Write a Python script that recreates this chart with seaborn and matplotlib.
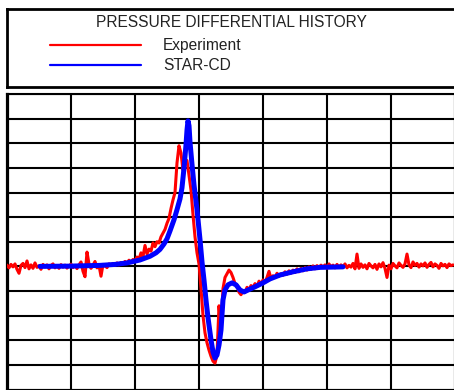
import numpy as np
import pandas as pd
import matplotlib
matplotlib.use("Agg")
import matplotlib.pyplot as plt
from matplotlib.lines import Line2D
import seaborn as sns

# Measured pressure differential, uniformly sampled
EXP_DT = 0.03125
exp_dp = [
    0.05, -0.06, 0.08, -0.02, 0.10, -0.12, -0.28, 0.04, 0.12, -0.05,
    0.22, -0.10, 0.06, -0.08, 0.14, -0.04, 0.02, -0.12, 0.08, -0.02,
    0.06, -0.10, 0.04, 0.10, -0.06, 0.03, -0.08, 0.07, -0.03, 0.05,
    -0.07, 0.02, 0.09, -0.05, 0.04, -0.09, 0.06, 0.18, -0.20, -0.42,
    0.58, 0.10, -0.08, 0.05, 0.20, -0.06, 0.04, -0.40, 0.08, 0.02,
    -0.05, 0.10, 0.04, 0.12, 0.05, 0.14, 0.06, 0.16, 0.10, 0.20,
    0.13, 0.25, 0.17, 0.28, 0.22, 0.38, 0.30, 0.55, 0.40, 0.85,
    0.50, 0.70, 0.62, 0.95, 0.80, 1.00, 0.95, 1.20, 1.35, 1.50,
    1.75, 1.95, 2.35, 2.70, 3.00, 4.20, 4.90, 4.60, 3.90, 4.25,
    4.30, 3.70, 3.10, 2.10, 1.20, 0.55, 0.10, -0.90, -2.00, -2.70,
    -3.10, -3.40, -3.65, -3.85, -3.93, -3.60, -1.60, -2.50, -0.90, -0.45,
    -0.30, -0.15, -0.25, -0.45, -0.70, -0.75, -1.05, -1.15, -1.00, -1.05,
    -0.85, -0.95, -0.78, -0.85, -0.70, -0.82, -0.60, -0.72, -0.55, -0.65,
    -0.45, -0.20, -0.50, -0.38, -0.45, -0.28, -0.40, -0.30, -0.36, -0.22,
    -0.32, -0.18, -0.28, -0.15, -0.25, -0.10, -0.22, -0.08, -0.18, -0.05,
    -0.15, -0.02, -0.12, 0.02, -0.10, 0.03, -0.06, 0.05, -0.04, 0.06,
    -0.08, 0.10, -0.02, 0.05, -0.06, 0.08, -0.04, 0.06, -0.02, 0.10,
    -0.06, 0.04, -0.03, 0.12, -0.10, 0.50, -0.08, 0.10, -0.04, 0.06,
    -0.10, 0.12, 0.02, -0.06, 0.08, -0.12, 0.10, -0.02, 0.15, -0.08,
    -0.45, 0.05, -0.10, 0.12, 0.02, -0.06, 0.14, 0.04, -0.04, 0.10,
    0.50, 0.06, -0.05, 0.18, 0.04, 0.12, -0.03, 0.10, 0.02, 0.14,
    -0.04, 0.08, 0.16, -0.02, 0.10, 0.04, -0.08, 0.12, 0.02, 0.08,
    -0.05, 0.10, 0.03, 0.06,
]
exp_t = np.arange(len(exp_dp)) * EXP_DT

# STAR-CD simulation result
sim_t = [0.516, 0.984, 1.453, 1.688, 1.875, 2.078, 2.234, 2.328, 2.390, 2.453,
         2.500, 2.547, 2.609, 2.656, 2.703, 2.734, 2.766, 2.797, 2.813, 2.828,
         2.844, 2.859, 2.891, 2.922, 2.969, 3.016, 3.047, 3.078, 3.109, 3.141,
         3.188, 3.219, 3.250, 3.281, 3.313, 3.344, 3.359, 3.375, 3.406, 3.453,
         3.516, 3.578, 3.641, 3.703, 3.766, 3.875, 4.000, 4.109, 4.266, 4.469,
         4.688, 4.891, 5.250]
sim_dp = [0.00, 0.01, 0.04, 0.08, 0.14, 0.26, 0.41, 0.55, 0.69, 0.91,
          1.12, 1.44, 1.89, 2.30, 2.74, 3.19, 4.00, 4.94, 5.55, 5.91,
          5.71, 5.06, 4.13, 3.31, 2.30, 1.08, 0.18, -0.55, -1.36, -2.09,
          -2.99, -3.48, -3.72, -3.60, -3.19, -2.58, -1.97, -1.36, -0.96, -0.75,
          -0.67, -0.75, -0.96, -1.04, -0.96, -0.83, -0.67, -0.51, -0.35, -0.22,
          -0.10, -0.04, -0.02]

title = "PRESSURE DIFFERENTIAL HISTORY"
labels = ["Experiment", "STAR-CD"]
colors = ["#ff0000", "#0000ff"]

sns.set_style("white")
plt.rcParams["font.family"] = ["Liberation Sans", "DejaVu Sans"]

W, H = 454, 390
fig = plt.figure(figsize=(W / 100, H / 100), dpi=100)

# Main plotting grid
ax = fig.add_axes([7 / W, 0.5 / H, 448 / W, 295.5 / H])
exp_df = pd.DataFrame({"t": exp_t, "dp": exp_dp})
sim_df = pd.DataFrame({"t": sim_t, "dp": sim_dp})
sns.lineplot(data=exp_df, x="t", y="dp", ax=ax, color=colors[0], lw=2.2,
             estimator=None, sort=False, zorder=3)
sns.lineplot(data=sim_df, x="t", y="dp", ax=ax, color=colors[1], lw=3.6,
             estimator=None, sort=False, zorder=4)
ax.set_xlim(0, 7)
ax.set_ylim(-5, 7)
ax.set_xticks(range(0, 8))
ax.set_yticks(range(-5, 8))
ax.tick_params(length=0, labelbottom=False, labelleft=False)
ax.set_xlabel("")
ax.set_ylabel("")
ax.grid(True, color="black", lw=1.5)
ax.set_axisbelow(True)
for side, sp in ax.spines.items():
    sp.set_color("black")
    sp.set_linewidth(1.5)
ax.spines["left"].set_linewidth(2.3)

# Title / legend panel
lax = fig.add_axes([6.5 / W, 1 - 87 / H, 460 / W, 78 / H])
lax.set_xticks([])
lax.set_yticks([])
for sp in lax.spines.values():
    sp.set_color("black")
    sp.set_linewidth(2.0)
fig.text(231 / W, 1 - 22.5 / H, title, ha="center", va="center",
         fontsize=11.2, color="#222222")
handles = [Line2D([], [], color=c, lw=1.6) for c in colors]
fig.legend(handles, labels, loc="upper left",
           bbox_to_anchor=(50 / W, 1 - 38 / H), frameon=False,
           fontsize=11.2, handlelength=5.85, handletextpad=1.4,
           labelspacing=0.35, borderpad=0, borderaxespad=0,
           labelcolor="#222222")

fig.savefig("out.png", dpi=100)
